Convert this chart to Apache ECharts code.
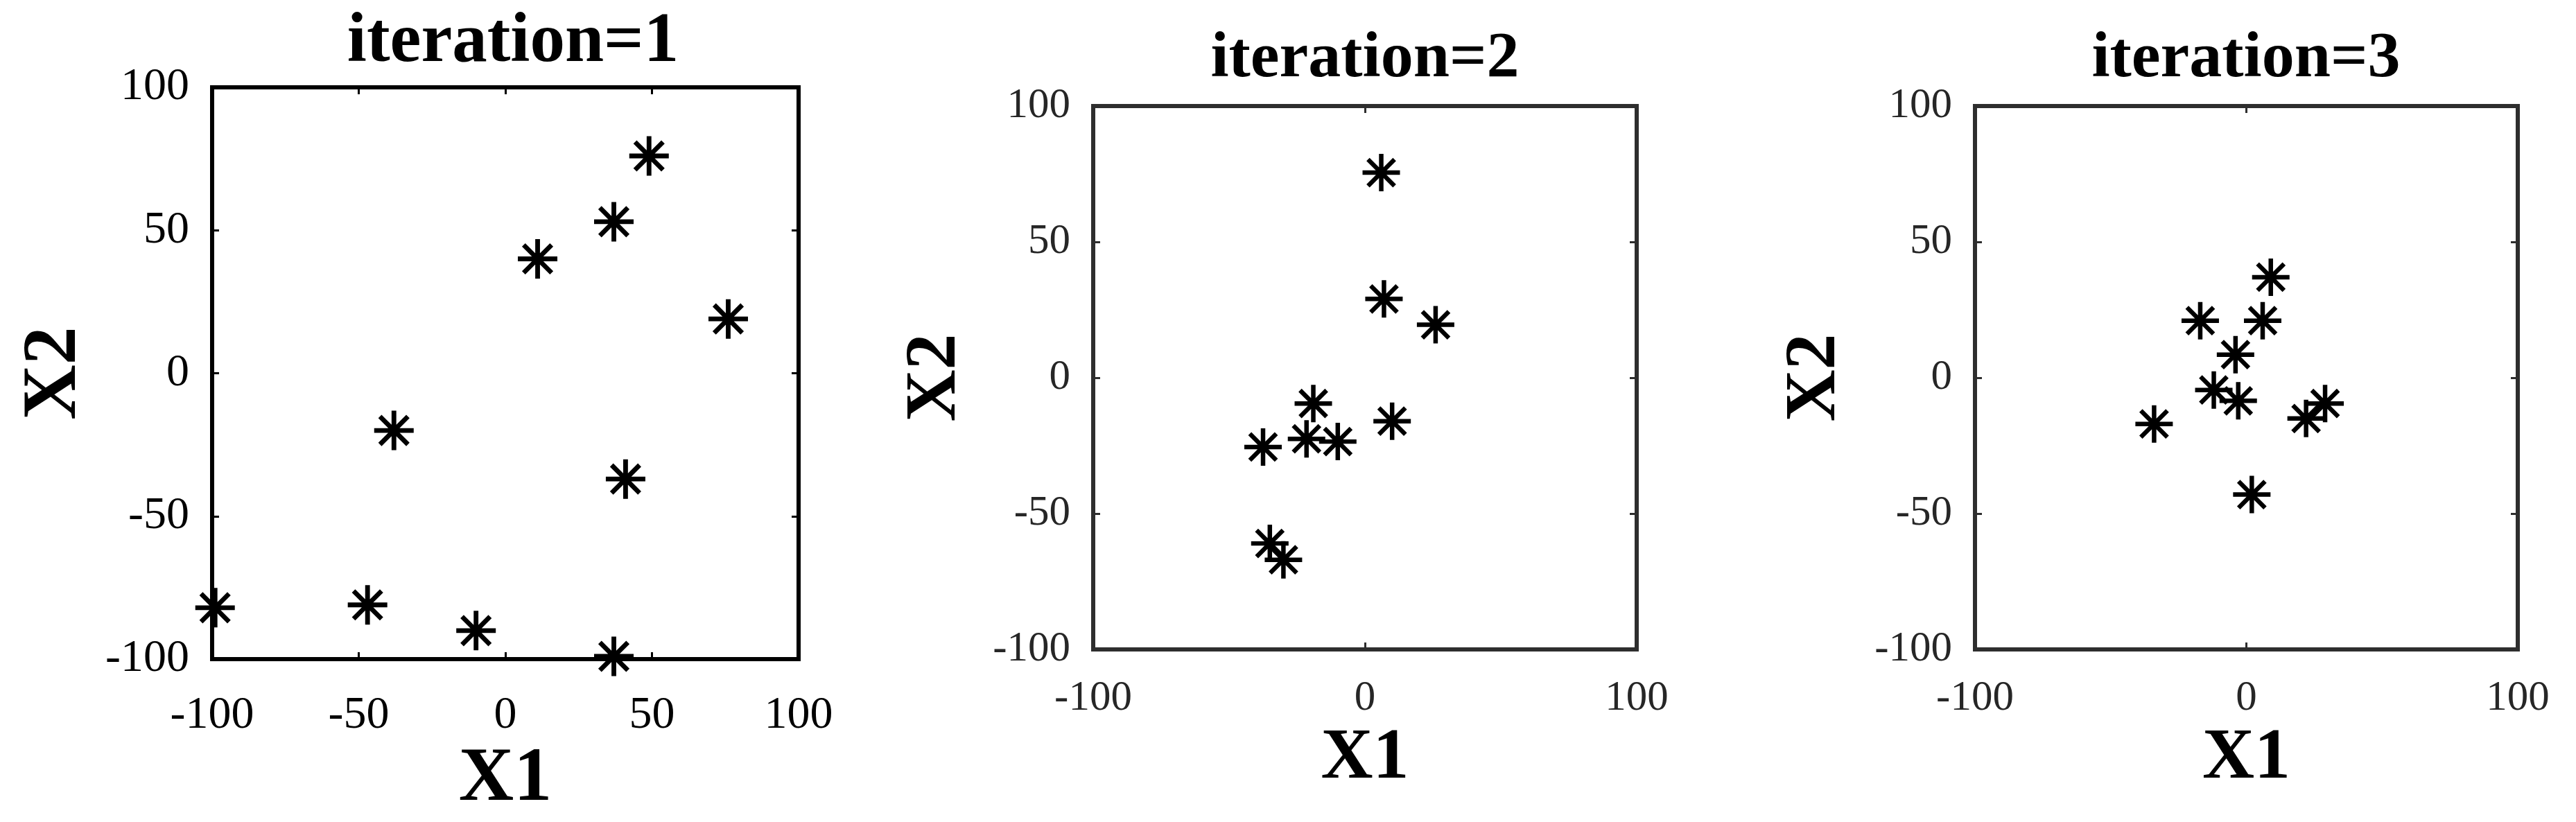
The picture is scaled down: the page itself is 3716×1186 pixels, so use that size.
<!DOCTYPE html>
<html><head><meta charset="utf-8">
<script src="https://cdn.jsdelivr.net/npm/echarts@6/dist/echarts.min.js"></script>
<style>html,body{margin:0;padding:0;background:#fff}#c{width:3716px;height:1186px}</style>
</head><body><div id="c"></div>
<script>
// ---- data ----
const titles = ['iteration=1', 'iteration=2', 'iteration=3'];
const xName = 'X1';
const yName = 'X2';
const axisMin = -100;
const axisMax = 100;
const xStep = [50, 100, 100];
const yStep = [50, 50, 50];
const iter1X1 = [49, 37, 11, 76, -38, 41, -99, -47, -10, 37];
const iter1X2 = [76, 53, 40, 19, -20, -37, -82, -81, -90, -99];
const iter2X1 = [6, 7, 26, -19, 10, -21.5, -10, -37.5, -35, -30];
const iter2X2 = [75.5, 29, 19.5, -9.5, -16, -22.5, -23.5, -25.5, -61, -67];
const iter3X1 = [9, -17, 6, -4, -12, -3, -34, 22, 29, 2];
const iter3X2 = [37, 21, 21, 8.5, -4.5, -8.5, -17, -15, -9.5, -43];

const xs = [iter1X1, iter2X1, iter3X1];
const ys = [iter1X2, iter2X2, iter3X2];

// ---- layout / style ----
const grids = [
  {left: 306, top: 126, width: 846, height: 837},
  {left: 1577, top: 153, width: 784, height: 784},
  {left: 2849, top: 153, width: 783, height: 784}
];
const titleCx = [740, 1969, 3240];
const frameColor = ['#000000', '#2e2e2e', '#2e2e2e'];
const labelColor = ['#000000', '#262626', '#262626'];
const titleSize = [101, 94, 94];
const titleTop = [11, 39, 39];
const labelSize = [66, 61, 61];
const nameSize = [110, 104, 104];
const xLabelMargin = [49, 40, 40];
const xNameGap = [103, 106, 106];
const yNameGap = [171, 175, 178];
const symSize = [57, 54, 54];
const FONT = '"Liberation Serif", "Times New Roman", serif';

// asterisk (+ and x) as filled path, all sub-paths same winding
const STAR = 'path://M0 44 L100 44 L100 56 L0 56 Z ' +
  'M44 0 L56 0 L56 100 L44 100 Z ' +
  'M18.8 10.4 L89.6 81.2 L81.2 89.6 L10.4 18.8 Z ' +
  'M10.4 81.2 L81.2 10.4 L89.6 18.8 L18.8 89.6 Z';

const option = {
  animation: false,
  backgroundColor: '#ffffff',
  title: [], grid: [], xAxis: [], yAxis: [], series: []
};

for (let i = 0; i < 3; i++) {
  const g = grids[i];
  option.grid.push(Object.assign({
    show: true, borderColor: frameColor[i], borderWidth: 6,
    backgroundColor: 'transparent', containLabel: false
  }, g));
  option.title.push({
    text: titles[i], left: titleCx[i], top: titleTop[i],
    textAlign: 'center', padding: 0,
    textStyle: {fontFamily: FONT, fontWeight: 'bold', fontSize: titleSize[i], lineHeight: titleSize[i], color: '#000'}
  });
  const tick = {show: true, inside: true, length: 10, lineStyle: {color: frameColor[i], width: 3}};
  const noLine = {show: false, onZero: false};
  const nameStyle = {fontFamily: FONT, fontWeight: 'bold', fontSize: nameSize[i], lineHeight: nameSize[i], color: '#000'};
  // bottom x
  option.xAxis.push({
    type: 'value', gridIndex: i, position: 'bottom', min: axisMin, max: axisMax, interval: xStep[i],
    name: xName, nameLocation: 'middle', nameGap: xNameGap[i], nameTextStyle: nameStyle,
    axisLine: noLine, splitLine: {show: false}, axisTick: tick,
    axisLabel: {fontFamily: FONT, fontSize: labelSize[i], lineHeight: labelSize[i], color: labelColor[i], margin: xLabelMargin[i]}
  });
  // top x
  option.xAxis.push({
    type: 'value', gridIndex: i, position: 'top', min: axisMin, max: axisMax, interval: xStep[i],
    axisLine: noLine, splitLine: {show: false}, axisTick: tick, axisLabel: {show: false}
  });
  // left y
  option.yAxis.push({
    type: 'value', gridIndex: i, position: 'left', min: axisMin, max: axisMax, interval: yStep[i],
    name: yName, nameLocation: 'middle', nameGap: yNameGap[i], nameRotate: 90, nameTextStyle: nameStyle,
    axisLine: noLine, splitLine: {show: false}, axisTick: tick,
    axisLabel: {fontFamily: FONT, fontSize: labelSize[i], lineHeight: labelSize[i], color: labelColor[i], margin: 33}
  });
  // right y
  option.yAxis.push({
    type: 'value', gridIndex: i, position: 'right', min: axisMin, max: axisMax, interval: yStep[i],
    axisLine: noLine, splitLine: {show: false}, axisTick: tick, axisLabel: {show: false}
  });
  option.series.push({
    type: 'scatter', xAxisIndex: 2 * i, yAxisIndex: 2 * i,
    symbol: STAR, symbolSize: symSize[i],
    itemStyle: {color: '#000', opacity: 1},
    data: xs[i].map((x, k) => [x, ys[i][k]])
  });
}

const chart = echarts.init(document.getElementById('c'), null, {renderer: 'canvas'});
chart.setOption(option);
</script>
</body></html>
